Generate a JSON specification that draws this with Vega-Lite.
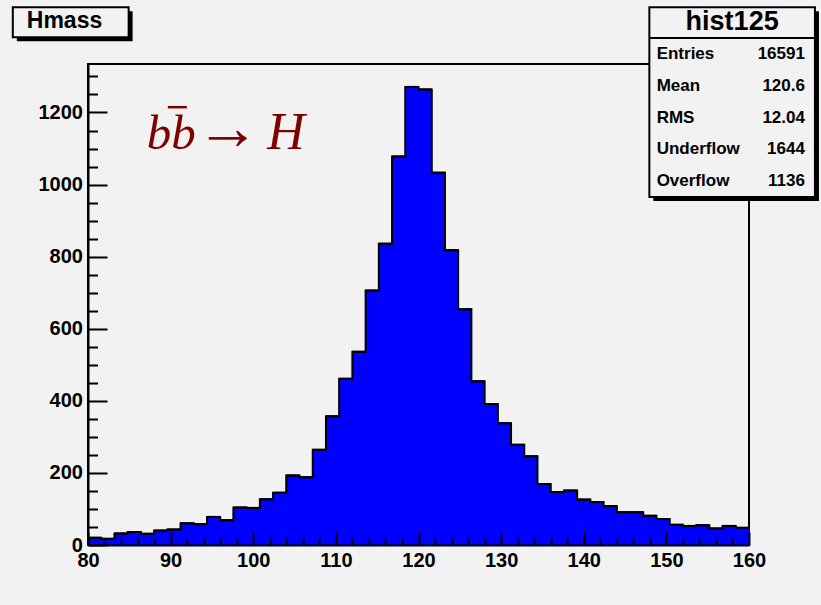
{
  "$schema": "https://vega.github.io/schema/vega-lite/v6.json",
  "width": 661,
  "height": 481,
  "autosize": {"type": "none"},
  "padding": {"left": 88, "top": 64, "right": 72, "bottom": 60},
  "background": "#f2f2f2",
  "config": {
    "view": {"stroke": "black", "strokeWidth": 2, "fill": "#f2f2f2"},
    "text": {"font": "Liberation Sans", "fontWeight": "bold", "color": "black"}
  },
  "resolve": {"axis": {"x": "independent", "y": "independent"}},
  "datasets": {
    "hist": [
      {"start": 80, "end": 81.6, "count": 20},
      {"start": 81.6, "end": 83.2, "count": 17},
      {"start": 83.2, "end": 84.8, "count": 32},
      {"start": 84.8, "end": 86.4, "count": 36},
      {"start": 86.4, "end": 88, "count": 31},
      {"start": 88, "end": 89.6, "count": 40},
      {"start": 89.6, "end": 91.2, "count": 43},
      {"start": 91.2, "end": 92.8, "count": 60},
      {"start": 92.8, "end": 94.4, "count": 58},
      {"start": 94.4, "end": 96, "count": 78},
      {"start": 96, "end": 97.6, "count": 69},
      {"start": 97.6, "end": 99.2, "count": 104},
      {"start": 99.2, "end": 100.8, "count": 103},
      {"start": 100.8, "end": 102.4, "count": 127},
      {"start": 102.4, "end": 104, "count": 145},
      {"start": 104, "end": 105.6, "count": 193},
      {"start": 105.6, "end": 107.2, "count": 188},
      {"start": 107.2, "end": 108.8, "count": 264},
      {"start": 108.8, "end": 110.4, "count": 357},
      {"start": 110.4, "end": 112, "count": 461},
      {"start": 112, "end": 113.6, "count": 536},
      {"start": 113.6, "end": 115.2, "count": 706},
      {"start": 115.2, "end": 116.8, "count": 836},
      {"start": 116.8, "end": 118.4, "count": 1078},
      {"start": 118.4, "end": 120, "count": 1271},
      {"start": 120, "end": 121.6, "count": 1264},
      {"start": 121.6, "end": 123.2, "count": 1033},
      {"start": 123.2, "end": 124.8, "count": 818},
      {"start": 124.8, "end": 126.4, "count": 654},
      {"start": 126.4, "end": 128, "count": 454},
      {"start": 128, "end": 129.6, "count": 391},
      {"start": 129.6, "end": 131.2, "count": 338},
      {"start": 131.2, "end": 132.8, "count": 278},
      {"start": 132.8, "end": 134.4, "count": 246},
      {"start": 134.4, "end": 136, "count": 169},
      {"start": 136, "end": 137.6, "count": 147},
      {"start": 137.6, "end": 139.2, "count": 151},
      {"start": 139.2, "end": 140.8, "count": 126},
      {"start": 140.8, "end": 142.4, "count": 119},
      {"start": 142.4, "end": 144, "count": 108},
      {"start": 144, "end": 145.6, "count": 91},
      {"start": 145.6, "end": 147.2, "count": 91},
      {"start": 147.2, "end": 148.8, "count": 81},
      {"start": 148.8, "end": 150.4, "count": 72},
      {"start": 150.4, "end": 152, "count": 56},
      {"start": 152, "end": 153.6, "count": 53},
      {"start": 153.6, "end": 155.2, "count": 55},
      {"start": 155.2, "end": 156.8, "count": 46},
      {"start": 156.8, "end": 158.4, "count": 53},
      {"start": 158.4, "end": 160, "count": 48}
    ],
    "stats": [
      {"label": "Entries", "value": "16591"},
      {"label": "Mean", "value": "120.6"},
      {"label": "RMS", "value": "12.04"},
      {"label": "Underflow", "value": "1644"},
      {"label": "Overflow", "value": "1136"}
    ]
  },
  "layer": [
    {
      "data": {"name": "hist"},
      "mark": {"type": "rect", "color": "#0000ff", "stroke": "#0000ff", "strokeWidth": 1},
      "encoding": {
        "x": {
          "field": "start", "type": "quantitative",
          "scale": {"domain": [80, 160], "nice": false, "zero": false},
          "axis": {
            "orient": "bottom", "title": null, "grid": false, "zindex": 1,
            "values": [80, 90, 100, 110, 120, 130, 140, 150, 160],
            "format": "d",
            "tickSize": -13, "tickColor": "black", "tickWidth": 2,
            "domainColor": "black", "domainWidth": 2,
            "labelFont": "Liberation Sans", "labelFontWeight": "bold", "labelFontSize": 20,
            "labelColor": "black", "labelPadding": 18, "labelFlush": false, "labelOverlap": false
          }
        },
        "x2": {"field": "end"},
        "y": {
          "field": "count", "type": "quantitative",
          "scale": {"domain": [0, 1334.5], "nice": false},
          "axis": {
            "orient": "left", "title": null, "grid": false, "zindex": 1,
            "values": [0, 200, 400, 600, 800, 1000, 1200],
            "format": "d",
            "tickSize": -19, "tickColor": "black", "tickWidth": 2,
            "domainColor": "black", "domainWidth": 2,
            "labelFont": "Liberation Sans", "labelFontWeight": "bold", "labelFontSize": 20,
            "labelColor": "black", "labelPadding": 24.6, "labelFlush": false, "labelOverlap": false
          }
        },
        "y2": {"datum": 0}
      }
    },
    {
      "data": {"name": "hist"},
      "mark": {"type": "line", "interpolate": "step-after", "color": "black", "strokeWidth": 2},
      "encoding": {
        "x": {
          "field": "start", "type": "quantitative",
          "axis": {
            "orient": "bottom", "title": null, "grid": false, "labels": false, "domain": false, "zindex": 1,
            "values": [82,84,86,88,92,94,96,98,102,104,106,108,112,114,116,118,122,124,126,128,132,134,136,138,142,144,146,148,152,154,156,158],
            "tickSize": -7, "tickColor": "black", "tickWidth": 2
          }
        },
        "y": {
          "field": "count", "type": "quantitative",
          "axis": {
            "orient": "left", "title": null, "grid": false, "labels": false, "domain": false, "zindex": 1,
            "values": [50,100,150,250,300,350,450,500,550,650,700,750,850,900,950,1050,1100,1150,1250,1300],
            "tickSize": -9.5, "tickColor": "black", "tickWidth": 2
          }
        }
      }
    },
    {
      "data": {"name": "hist"},
      "mark": {"type": "rule", "color": "black", "strokeWidth": 2},
      "encoding": {
        "x": {"field": "start", "type": "quantitative", "axis": null},
        "x2": {"field": "end"},
        "y": {"field": "count", "type": "quantitative", "axis": null}
      }
    },
    {
      "data": {"values": [{}]},
      "mark": {"type": "rect", "color": "black"},
      "encoding": {
        "x": {"datum": 71.39, "axis": null}, "x2": {"datum": 85.4},
        "y": {"datum": 1397.5, "axis": null}, "y2": {"datum": 1480.6}
      }
    },
    {
      "data": {"values": [{}]},
      "mark": {"type": "rect", "fill": "#f2f2f2", "stroke": "black", "strokeWidth": 2},
      "encoding": {
        "x": {"datum": 70.9, "axis": null}, "x2": {"datum": 84.92},
        "y": {"datum": 1408.6, "axis": null}, "y2": {"datum": 1491.7}
      }
    },
    {
      "data": {"values": [{}]},
      "mark": {"type": "text", "text": "Hmass", "align": "left", "baseline": "middle", "fontSize": 23},
      "encoding": {"x": {"datum": 72.59, "axis": null}, "y": {"datum": 1452.9, "axis": null}}
    },
    {
      "data": {"values": [{}]},
      "mark": {"type": "rect", "color": "black"},
      "encoding": {
        "x": {"datum": 148.42, "axis": null}, "x2": {"datum": 168.47},
        "y": {"datum": 954.3, "axis": null}, "y2": {"datum": 1480.6}
      }
    },
    {
      "data": {"values": [{}]},
      "mark": {"type": "rect", "fill": "#f2f2f2", "stroke": "black", "strokeWidth": 2},
      "encoding": {
        "x": {"datum": 147.94, "axis": null}, "x2": {"datum": 167.98},
        "y": {"datum": 965.4, "axis": null}, "y2": {"datum": 1491.7}
      }
    },
    {
      "data": {"values": [{}]},
      "mark": {"type": "rule", "color": "black", "strokeWidth": 2},
      "encoding": {
        "x": {"datum": 147.94, "axis": null}, "x2": {"datum": 167.98},
        "y": {"datum": 1406.6, "axis": null}
      }
    },
    {
      "data": {"values": [{}]},
      "mark": {"type": "text", "text": "hist125", "align": "center", "baseline": "middle", "fontSize": 27},
      "encoding": {"x": {"datum": 157.96, "axis": null}, "y": {"datum": 1450, "axis": null}}
    },
    {
      "data": {"name": "stats"},
      "transform": [{"filter": "datum.label === 'Entries'"}],
      "encoding": {"y": {"datum": 1361.5, "axis": null}},
      "layer": [
        {"mark": {"type": "text", "align": "left", "baseline": "middle", "fontSize": 17}, "encoding": {"x": {"datum": 148.82, "axis": null}, "text": {"field": "label"}}},
        {"mark": {"type": "text", "align": "right", "baseline": "middle", "fontSize": 17}, "encoding": {"x": {"datum": 166.77, "axis": null}, "text": {"field": "value"}}}
      ]
    },
    {
      "data": {"name": "stats"},
      "transform": [{"filter": "datum.label === 'Mean'"}],
      "encoding": {"y": {"datum": 1273.5, "axis": null}},
      "layer": [
        {"mark": {"type": "text", "align": "left", "baseline": "middle", "fontSize": 17}, "encoding": {"x": {"datum": 148.82, "axis": null}, "text": {"field": "label"}}},
        {"mark": {"type": "text", "align": "right", "baseline": "middle", "fontSize": 17}, "encoding": {"x": {"datum": 166.77, "axis": null}, "text": {"field": "value"}}}
      ]
    },
    {
      "data": {"name": "stats"},
      "transform": [{"filter": "datum.label === 'RMS'"}],
      "encoding": {"y": {"datum": 1185.6, "axis": null}},
      "layer": [
        {"mark": {"type": "text", "align": "left", "baseline": "middle", "fontSize": 17}, "encoding": {"x": {"datum": 148.82, "axis": null}, "text": {"field": "label"}}},
        {"mark": {"type": "text", "align": "right", "baseline": "middle", "fontSize": 17}, "encoding": {"x": {"datum": 166.77, "axis": null}, "text": {"field": "value"}}}
      ]
    },
    {
      "data": {"name": "stats"},
      "transform": [{"filter": "datum.label === 'Underflow'"}],
      "encoding": {"y": {"datum": 1097.6, "axis": null}},
      "layer": [
        {"mark": {"type": "text", "align": "left", "baseline": "middle", "fontSize": 17}, "encoding": {"x": {"datum": 148.82, "axis": null}, "text": {"field": "label"}}},
        {"mark": {"type": "text", "align": "right", "baseline": "middle", "fontSize": 17}, "encoding": {"x": {"datum": 166.77, "axis": null}, "text": {"field": "value"}}}
      ]
    },
    {
      "data": {"name": "stats"},
      "transform": [{"filter": "datum.label === 'Overflow'"}],
      "encoding": {"y": {"datum": 1009.7, "axis": null}},
      "layer": [
        {"mark": {"type": "text", "align": "left", "baseline": "middle", "fontSize": 17}, "encoding": {"x": {"datum": 148.82, "axis": null}, "text": {"field": "label"}}},
        {"mark": {"type": "text", "align": "right", "baseline": "middle", "fontSize": 17}, "encoding": {"x": {"datum": 166.77, "axis": null}, "text": {"field": "value"}}}
      ]
    },
    {
      "data": {"values": [{}]},
      "mark": {"type": "text", "text": "bb", "align": "left", "baseline": "alphabetic", "font": "Liberation Serif", "fontStyle": "italic", "fontWeight": "normal", "fontSize": 49, "color": "#800000"},
      "encoding": {"x": {"datum": 87.1, "axis": null}, "y": {"datum": 1098.3, "axis": null}}
    },
    {
      "data": {"values": [{}]},
      "mark": {"type": "rule", "color": "#800000", "strokeWidth": 2.5},
      "encoding": {"x": {"datum": 89.66, "axis": null}, "x2": {"datum": 91.96}, "y": {"datum": 1214.7, "axis": null}}
    },
    {
      "data": {"values": [{}]},
      "mark": {"type": "text", "text": "→", "align": "left", "baseline": "alphabetic", "font": "Liberation Serif", "fontWeight": "normal", "fontSize": 64, "color": "#800000"},
      "encoding": {"x": {"datum": 93.03, "axis": null}, "y": {"datum": 1098.3, "axis": null}}
    },
    {
      "data": {"values": [{}]},
      "mark": {"type": "text", "text": "H", "align": "left", "baseline": "alphabetic", "font": "Liberation Serif", "fontStyle": "italic", "fontWeight": "normal", "fontSize": 52, "color": "#800000"},
      "encoding": {"x": {"datum": 101.7, "axis": null}, "y": {"datum": 1098.3, "axis": null}}
    }
  ]
}
